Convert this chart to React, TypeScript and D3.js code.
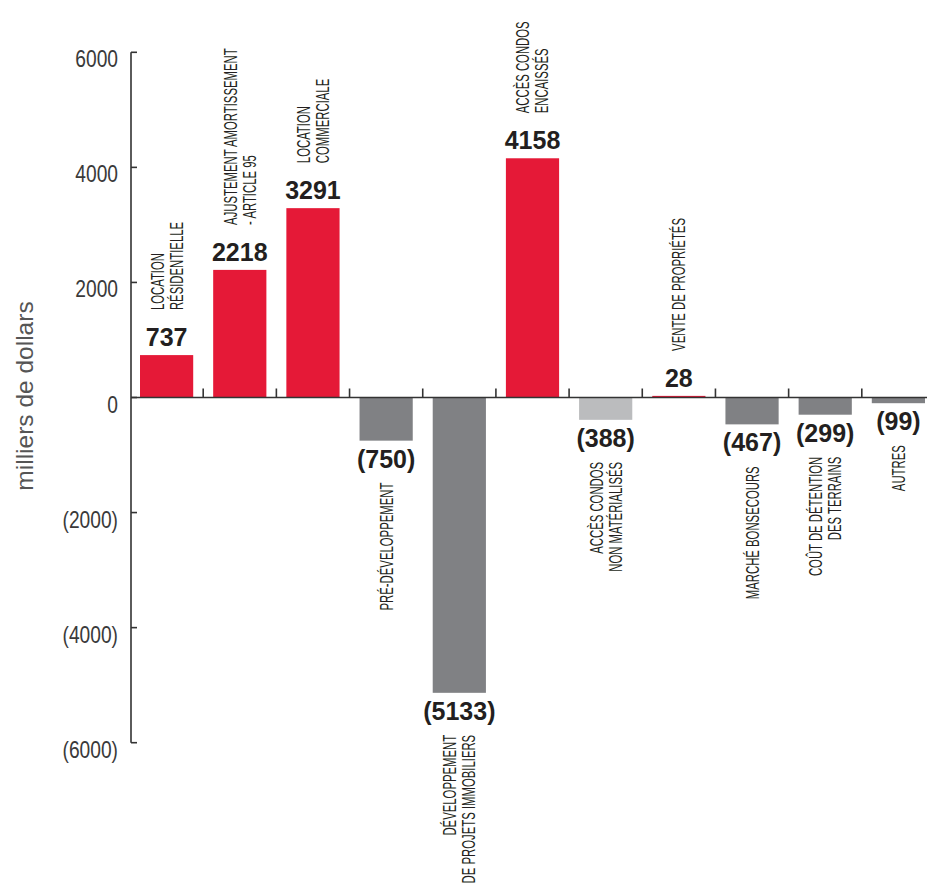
import { useRef, useEffect } from "react";
import * as d3 from "d3";

// Category labels (each entry = lines of the rotated label)
const CATEGORIES: string[][] = [
  ["LOCATION", "RÉSIDENTIELLE"],
  ["AJUSTEMENT AMORTISSEMENT", "- ARTICLE 95"],
  ["LOCATION", "COMMERCIALE"],
  ["PRÉ-DÉVELOPPEMENT"],
  ["DÉVELOPPEMENT", "DE PROJETS IMMOBILIERS"],
  ["ACCÈS CONDOS", "ENCAISSÉS"],
  ["ACCÈS CONDOS", "NON MATÉRIALISÉS"],
  ["VENTE DE PROPRIÉTÉS"],
  ["MARCHÉ BONSECOURS"],
  ["COÛT DE DÉTENTION", "DES TERRAINS"],
  ["AUTRES"],
];

// milliers de dollars
const VALUES = [737, 2218, 3291, -750, -5133, 4158, -388, 28, -467, -299, -99];

const KINDS = [
  "gain", "gain", "gain", "cost", "cost", "gain",
  "pending", "gain", "cost", "cost", "cost",
];

const Y_TICKS = [6000, 4000, 2000, 0, -2000, -4000, -6000];
const Y_TITLE = "milliers de dollars";

const WIDTH = 927;
const HEIGHT = 890;
const FONT = "'Liberation Sans', Arial, Helvetica, sans-serif";
const INK = "#231f20";
const COLORS: Record<string, string> = {
  gain: "#e51937",
  cost: "#808184",
  pending: "#bbbcbe",
};

const fmt = (v: number) => (v < 0 ? `(${-v})` : `${v}`);

export default function App() {
  const svgRef = useRef<SVGSVGElement>(null);

  useEffect(() => {
    if (!svgRef.current) return;
    const svg = d3.select(svgRef.current);
    svg.selectAll("*").remove();

    const axisX = 131;

    const x = d3
      .scaleBand<number>()
      .domain(d3.range(VALUES.length))
      .range([axisX, 934])
      .paddingInner(0.273)
      .paddingOuter(0.123);

    const y = d3.scaleLinear().domain([-6000, 6000]).range([742.7, 52.3]);

    const step = x.step();
    const gap = step - x.bandwidth();

    // Bars
    svg
      .append("g")
      .selectAll("rect")
      .data(VALUES)
      .join("rect")
      .attr("x", (_, i) => x(i)!)
      .attr("width", x.bandwidth())
      .attr("y", (d) => Math.min(y(d), y(0)))
      .attr("height", (d) => Math.abs(y(d) - y(0)))
      .attr("fill", (_, i) => COLORS[KINDS[i]]);

    // Y axis
    const axis = svg.append("g").attr("stroke", "#333").attr("stroke-width", 1.6);
    axis
      .append("line")
      .attr("x1", axisX)
      .attr("x2", axisX)
      .attr("y1", y(6000))
      .attr("y2", y(-6000));
    axis
      .selectAll("line.tick")
      .data(Y_TICKS)
      .join("line")
      .attr("class", "tick")
      .attr("x1", axisX)
      .attr("x2", axisX + 6)
      .attr("y1", (d) => y(d))
      .attr("y2", (d) => y(d));

    // Zero line + separators between categories
    axis
      .append("line")
      .attr("x1", axisX)
      .attr("x2", WIDTH)
      .attr("y1", y(0))
      .attr("y2", y(0));
    axis
      .selectAll("line.sep")
      .data(d3.range(1, VALUES.length))
      .join("line")
      .attr("class", "sep")
      .attr("x1", (i) => x(i)! - gap / 2)
      .attr("x2", (i) => x(i)! - gap / 2)
      .attr("y1", y(0))
      .attr("y2", y(0) - 9);

    // Tick labels
    svg
      .append("g")
      .selectAll("text")
      .data(Y_TICKS)
      .join("text")
      .attr("transform", (d) => `translate(118,${y(d) + 15}) scale(0.8,1)`)
      .attr("text-anchor", "end")
      .attr("font-family", FONT)
      .attr("font-size", 24)
      .attr("fill", "#3a3a3a")
      .text((d) => fmt(d));

    // Y title
    svg
      .append("text")
      .attr("transform", `translate(33,396) rotate(-90)`)
      .attr("text-anchor", "middle")
      .attr("font-family", FONT)
      .attr("font-size", 24.5)
      .attr("fill", "#555")
      .text(Y_TITLE);

    // Value labels
    const valueBase = (d: number) => (d >= 0 ? y(d) - 9 : y(d) + 27);
    svg
      .append("g")
      .selectAll("text")
      .data(VALUES)
      .join("text")
      .attr("x", (_, i) => x(i)! + x.bandwidth() / 2)
      .attr("y", (d) => valueBase(d))
      .attr("text-anchor", "middle")
      .attr("font-family", FONT)
      .attr("font-size", 25)
      .attr("font-weight", 700)
      .attr("fill", INK)
      .text((d) => fmt(d));

    // Category labels, rotated and squeezed to look condensed
    const catSize = 18;
    const lineH = 19;
    const cat = svg
      .append("g")
      .selectAll("g")
      .data(VALUES)
      .join("g")
      .attr("transform", (d, i) => {
        const cx = x(i)! + x.bandwidth() / 2;
        const yy = d >= 0 ? valueBase(d) - 36 : valueBase(d) + 15;
        return `translate(${cx},${yy}) rotate(-90) scale(0.63,1)`;
      });

    cat.each(function (d, i) {
      const lines = CATEGORIES[i];
      const n = lines.length;
      d3.select(this)
        .selectAll("text")
        .data(lines)
        .join("text")
        .attr("x", 0)
        .attr("y", (_, j) => (j - (n - 1) / 2) * lineH + catSize * 0.36)
        .attr("text-anchor", d >= 0 ? "start" : "end")
        .attr("font-family", FONT)
        .attr("font-size", catSize)
        .attr("fill", INK)
        .text((t) => t);
    });
  }, []);

  return (
    <svg
      ref={svgRef}
      width={WIDTH}
      height={HEIGHT}
      style={{ position: "absolute", left: 0, top: 0, background: "#fff" }}
    />
  );
}
